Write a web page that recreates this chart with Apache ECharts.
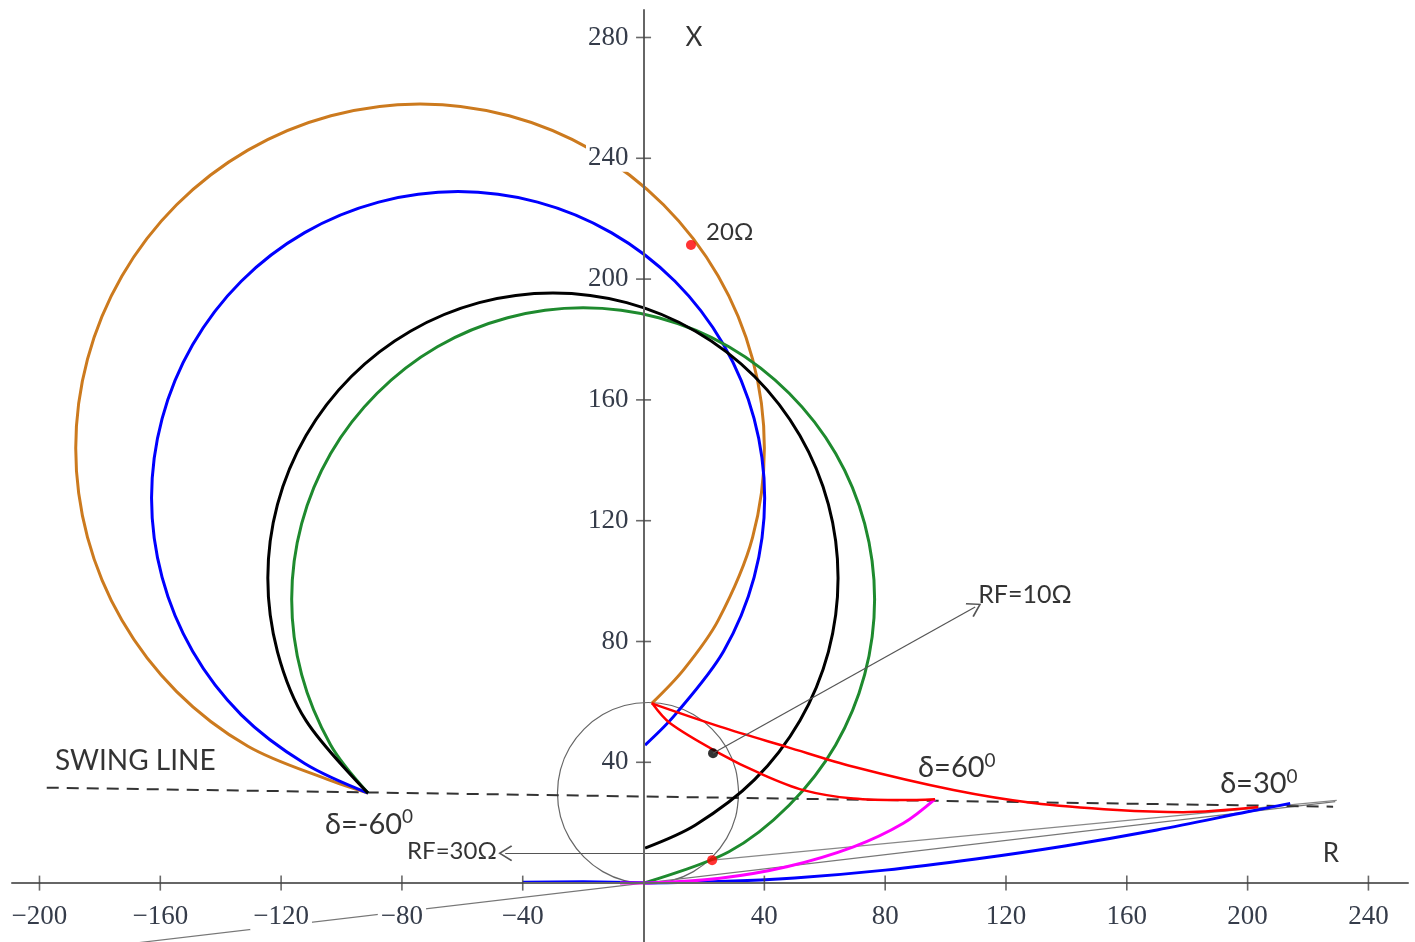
<!DOCTYPE html>
<html><head><meta charset="utf-8">
<script src="https://cdn.jsdelivr.net/npm/echarts@6/dist/echarts.min.js"></script>
<style>html,body{margin:0;padding:0;background:#fff}#c{width:1415px;height:942px}</style>
</head><body><div id="c"></div>
<script>
// ---------- tick labels ----------
const xTicks = [-200, -160, -120, -80, -40, 40, 80, 120, 160, 200, 240];
const yTicks = [40, 80, 120, 160, 200, 240, 280];

// ---------- curves (R, X) ----------
const orangeArc = [[-91.2,29.8],[-103.5,33.9],[-131,45.3],[-154.6,63.4],[-172.7,87],[-184.1,114.5],[-188,144],[-184.1,173.5],[-172.7,201],[-154.6,224.6],[-131,242.7],[-103.5,254.1],[-74,258],[-44.5,254.1],[-17,242.7],[6.6,224.6],[24.7,201],[36.1,173.5],[40,144],[36.1,114.5],[24.7,87],[13.3,70.7],[2.8,59.6]];
const blueArc = [[-91.2,29.8],[-112.2,39.6],[-133.2,55.7],[-149.3,76.75],[-159.4,101.2],[-162.9,127.5],[-159.4,153.8],[-149.3,178.25],[-133.2,199.3],[-112.2,215.4],[-87.7,225.5],[-61.4,229],[-35.1,225.5],[-10.7,215.4],[10.4,199.3],[26.5,178.25],[36.6,153.8],[40.1,127.5],[36.6,101.2],[26.5,76.75],[10.4,55.7],[0.5,45.7]];
const blackArc = [[-91.2,29.8],[-111.75,53.8],[-121.2,76.6],[-124.4,101],[-121.2,125.4],[-111.75,148.2],[-96.75,167.75],[-77.2,182.75],[-54.4,192.2],[-30,195.4],[-5.6,192.2],[17.2,182.75],[36.75,167.75],[51.75,148.2],[61.2,125.4],[64.4,101],[61.2,76.6],[51.75,53.8],[36.75,34.25],[17.2,19.25],[0.5,11.6]];
const greenArc = [[-91.2,29.8],[-103.6,45.75],[-113.2,69.0],[-116.5,94],[-113.2,119],[-103.6,142.25],[-88.2,162.2],[-68.25,177.6],[-45,187.2],[-20,190.5],[5,187.2],[28.25,177.6],[48.2,162.2],[63.6,142.25],[73.2,119],[76.5,94],[73.2,69],[63.6,45.75],[48.2,25.8],[28.25,10.4],[0,0]];
const grayCircle = [[31.5,29.8],[30.5,37.6],[27.5,44.8],[22.7,51.0],[16.5,55.8],[9.3,58.8],[1.5,59.8],[-6.3,58.8],[-13.5,55.8],[-19.7,51.0],[-24.5,44.8],[-27.5,37.6],[-28.5,29.8],[-27.5,22.0],[-24.5,14.8],[-19.7,8.6],[-13.5,3.8],[-6.3,0.8],[1.5,-0.2],[9.3,0.8],[16.5,3.8],[22.7,8.6],[27.5,14.8],[30.5,22.0],[31.5,29.8]];
const redUpper = [[2.7,59.5],[25.3,51.8],[47.4,45.1],[69.5,38.5],[102.6,30.8],[129.0,26.5],[156.8,24.2],[178.6,23.5],[203.5,25.2]];
const redLower = [[2.8,59.6],[8.8,52.9],[25.3,42.9],[38.6,36.3],[52.9,30.8],[69.5,28.0],[86.0,27.5],[96.5,27.8]];
const magentaCurve = [[96.5,27.8],[86.0,19.8],[69.5,12.0],[47.4,5.4],[25.3,1.6],[3.1,0.1],[-7.8,0]];
const blueLow = [[214.1,26.4],[200,23.6],[170,17.6],[140,12.4],[110,8.0],[80,4.3],[50,1.7],[25,0.5],[0,0]];
const blueAxis = [[-40,0.4],[-20,0.5],[0,0.2]];
const swingLine = [[-197.6,31.6],[228.3,25.3]];
const grayLine = [[-167,-19.7],[229,27.0]];
const grayLine2 = [[22.7,7.6],[229.5,27.4]];

// ---------- points ----------
const redDots = [[15.7,211.3],[22.7,7.6]];
const blackDots = [[23,43]];

// ---------- arrows ----------
const arrowFrom = [[23,43],[23,9.9]];
const arrowTo = [[109.8,91.4],[-45.8,9.9]];

// ---------- annotations ----------
const annR = [16.7, 227.6, 20.7, 110.8, -194.9, -105.5, -78.3, 90.9, 190.9];
const annX = [279.8, 9.9, 215.6, 95.4, 40.4, 19.5, 10.6, 38.1, 32.8];
const annMain = ['X', 'R', '20Ω', 'RF=10Ω', 'SWING LINE', 'δ=-60', 'RF=30Ω', 'δ=60', 'δ=30'];
const annSup = ['', '', '', '', '', '0', '', '0', '0'];
const annSize = [26, 26, 24, 25, 28, 29, 24, 29, 29];
const annAlign = ['center', 'center', 'left', 'left', 'left', 'left', 'left', 'left', 'left'];

const chart = echarts.init(document.getElementById('c'), null, {renderer: 'canvas'});
const FONT = 'Lato, "Open Sans", sans-serif';
const X_MIN = -209.1, X_MAX = 253.1, Y_MIN = -19.5, Y_MAX = 289.1;

function curve(data, color, width, extra) {
  return Object.assign({
    type: 'line', data: data, smooth: 0.33, showSymbol: false, symbol: 'none',
    silent: true, animation: false, clip: true,
    lineStyle: {color: color, width: width}
  }, extra || {});
}

const series = [
  curve(grayCircle, '#666', 1.2),
  curve(grayLine, '#777', 1.2, {smooth: false}),
  curve(grayLine2, '#888', 1.2, {smooth: false}),
  curve(swingLine, '#333', 2, {smooth: false, lineStyle: {color: '#333', width: 2, type: [12, 8]}}),
  curve(orangeArc, '#CC7A1E', 3),
  curve(blueArc, '#0000FF', 3),
  curve(greenArc, '#1E8A2E', 3),
  curve(blackArc, '#000000', 3),
  curve(blueLow, '#0000FF', 3),
  curve(blueAxis, '#0000FF', 2.5, {smooth: false}),
  curve(magentaCurve, '#FF00FF', 3),
  curve(redUpper, '#FF0000', 2.5),
  curve(redLower, '#FF0000', 2.5),
  {
    type: 'line', data: [], silent: true, animation: false,
    markLine: {
      silent: true, animation: false,
      symbol: ['none', 'path://M10,0 L20,14 L18.4,15.2 L10,3.2 L1.6,15.2 L0,14 Z'],
      symbolSize: [16, 14],
      label: {show: false},
      lineStyle: {color: '#555', width: 1.2, type: 'solid'},
      data: arrowFrom.map((p, i) => [{coord: p}, {coord: arrowTo[i]}])
    }
  },
  {type: 'scatter', data: redDots, symbolSize: 10, itemStyle: {color: '#FF0000'}, silent: true, animation: false, z: 4},
  {type: 'scatter', data: blackDots, symbolSize: 10, itemStyle: {color: '#000'}, silent: true, animation: false, z: 4},
  // crossing tick marks
  {type: 'scatter', data: xTicks.map(v => [v, 0]), symbol: 'rect', symbolSize: [1.6, 15], itemStyle: {color: '#444'}, silent: true, animation: false, z: 6},
  {type: 'scatter', data: yTicks.map(v => [0, v]), symbol: 'rect', symbolSize: [15, 1.6], itemStyle: {color: '#444'}, silent: true, animation: false, z: 6},
  // annotations
  {
    type: 'scatter', silent: true, animation: false, symbolSize: 1, itemStyle: {color: 'rgba(0,0,0,0)'}, z: 7,
    data: annR.map((r, i) => ({
      value: [r, annX[i]],
      label: {
        show: true, position: 'inside', align: annAlign[i], verticalAlign: 'middle',
        formatter: annSup[i] ? '{m|' + annMain[i] + '}{s|' + annSup[i] + '}' : '{m|' + annMain[i] + '}',
        rich: {
          m: {fontSize: annSize[i], fontFamily: FONT, color: '#000'},
          s: {fontSize: Math.round(annSize[i] * 0.65), fontFamily: FONT, color: '#000', padding: [0, 0, 14, 0]}
        }
      }
    }))
  }
];

const labelFont = {
  fontFamily: '"Liberation Serif", "DejaVu Serif", serif', fontSize: 27, color: '#353c4a',
  backgroundColor: '#fff'
};
const hidden = {show: false};

chart.setOption({
  animation: false,
  backgroundColor: '#fff',
  grid: [
    {left: 12, right: 7, top: 10, bottom: 0, containLabel: false, outerBoundsMode: 'none'},
    {left: 12, right: 7, top: 10, height: 873, containLabel: false, outerBoundsMode: 'none'},
    {left: 643.5, right: 7, top: 10, bottom: 0, containLabel: false, outerBoundsMode: 'none'}
  ],
  xAxis: [
    {
      gridIndex: 0, type: 'value', min: X_MIN, max: X_MAX, z: 5,
      axisLine: {onZero: true, lineStyle: {color: '#666', width: 2}},
      axisTick: hidden, splitLine: hidden, axisLabel: hidden
    },
    {
      gridIndex: 1, type: 'value', min: X_MIN, max: X_MAX, z: 5, position: 'bottom',
      axisLine: hidden, axisTick: hidden, splitLine: hidden,
      axisLabel: Object.assign({}, labelFont, {
        customValues: xTicks, margin: 20, padding: [0, 3],
        formatter: v => String(v).replace('-', '\u2212')
      })
    },
    {gridIndex: 2, type: 'value', min: X_MIN, max: X_MAX, show: false}
  ],
  yAxis: [
    {
      gridIndex: 0, type: 'value', min: Y_MIN, max: Y_MAX, z: 5,
      axisLine: {onZero: true, lineStyle: {color: '#666', width: 2}},
      axisTick: hidden, splitLine: hidden, axisLabel: hidden
    },
    {gridIndex: 1, type: 'value', min: Y_MIN, max: Y_MAX, show: false},
    {
      gridIndex: 2, type: 'value', min: Y_MIN, max: Y_MAX, z: 5, position: 'left',
      axisLine: hidden, axisTick: hidden, splitLine: hidden,
      axisLabel: Object.assign({}, labelFont, {customValues: yTicks, margin: 13, padding: [0, 2]})
    }
  ],
  series: series
});
</script></body></html>
